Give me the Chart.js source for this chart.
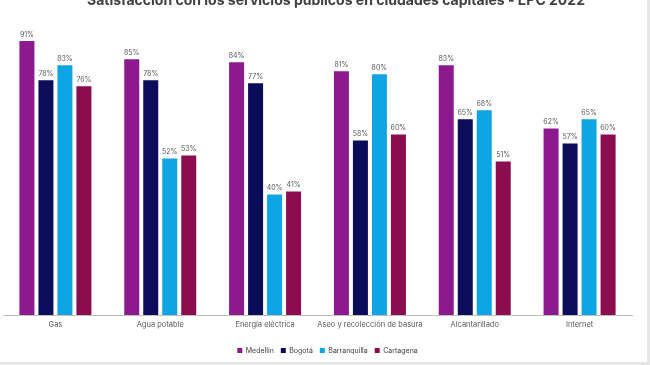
<!DOCTYPE html>
<html><head><meta charset="utf-8">
<script src="https://cdn.jsdelivr.net/npm/chart.js@4.4.1/dist/chart.umd.min.js"></script>
<style>
html,body{margin:0;padding:0;background:#fff;}
#wrap{position:relative;width:650px;height:365px;overflow:hidden;background:#fff;}
#cv{position:absolute;left:0;top:-11px;}
#frame{position:absolute;left:0;top:0;width:647px;height:362px;border-right:3px solid #e6e6e6;border-bottom:3px solid #e6e6e6;pointer-events:none;}
</style></head>
<body>
<div id="wrap"><canvas id="cv" width="650" height="376"></canvas><div id="frame"></div></div>
<script>
const categories = ["Gas","Agua potable","Energía eléctrica","Aseo y recolección de basura","Alcantarillado","Internet"];
const medellin = [91,85,84,81,83,62];
const bogota = [78,78,77,58,65,57];
const barranquilla = [83,52,40,80,68,65];
const cartagena = [76,53,41,60,51,60];
const seriesNames = ["Medellín","Bogotá","Barranquilla","Cartagena"];
const seriesColors = ["#8C1A8E","#0B0D5B","#0EA5E4","#8B0C4F"];
const titleText = "Satisfacción con los servicios públicos en ciudades capitales - EPC 2022";

const FONT = "Inter, 'Open Sans', sans-serif";

const titleDraw = {
  id:'titleDraw',
  afterDraw(chart){
    const ctx = chart.ctx;
    ctx.save();
    ctx.font = "bold 14px " + FONT;
    ctx.fillStyle = "#404040";
    ctx.textAlign = "center";
    ctx.textBaseline = "middle";
    ctx.fillText(titleText, 336, 11.4);
    ctx.restore();
  }
};

const legendShift = {
  id:'legendShift',
  afterLayout(chart){
    if (chart.legend){ chart.legend.left += 10; chart.legend.right += 10; }
  }
};

const valueLabels = {
  id:'valueLabels',
  afterDatasetsDraw(chart){
    const ctx = chart.ctx;
    ctx.save();
    ctx.font = "7px " + FONT;
    ctx.fillStyle = "#595959";
    ctx.textAlign = "center";
    ctx.textBaseline = "bottom";
    chart.data.datasets.forEach((ds,i)=>{
      const meta = chart.getDatasetMeta(i);
      meta.data.forEach((bar,j)=>{
        ctx.fillText(ds.data[j] + "%", bar.x, bar.y - 3);
      });
    });
    ctx.restore();
  }
};

const series = [medellin,bogota,barranquilla,cartagena];
new Chart(document.getElementById('cv'),{
  type:'bar',
  data:{
    labels:categories,
    datasets: series.map((d,i)=>({
      label:seriesNames[i], data:d, backgroundColor:seriesColors[i],
      categoryPercentage:0.725, barPercentage:0.79
    }))
  },
  options:{
    responsive:false, animation:false,
    layout:{padding:{left:3,right:18,top:25,bottom:1}},
    plugins:{
      title:{display:false},
      legend:{position:'bottom',
        title:{display:true,text:'',font:{size:5,lineHeight:1},padding:{top:0,bottom:1}},
        labels:{boxWidth:5,boxHeight:5,color:"#404040",padding:7,
          font:{family:FONT,size:7}}},
      tooltip:{enabled:false}
    },
    scales:{
      x:{grid:{display:false,drawTicks:false},border:{display:true,color:"#BFBFBF",width:1},
        ticks:{color:"#595959",font:{family:FONT,size:7.5},padding:5,maxRotation:0,autoSkip:false}},
      y:{display:false,min:0,max:100}
    }
  },
  plugins:[valueLabels,titleDraw,legendShift]
});
</script>
</body></html>
